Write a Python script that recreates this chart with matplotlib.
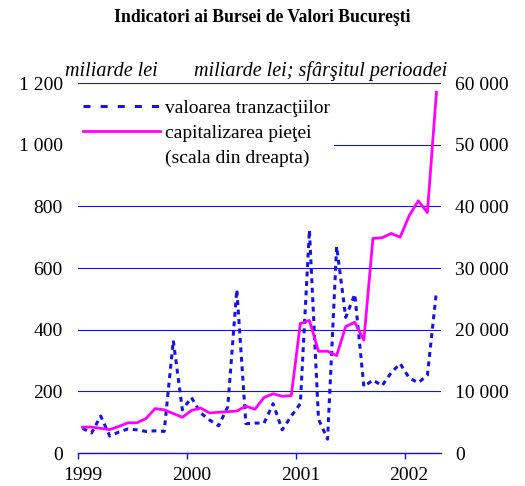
import matplotlib.pyplot as plt
from matplotlib.lines import Line2D
import numpy as np

# date lunare: ianuarie 1999 - aprilie 2002
ani = ['1999', '2000', '2001', '2002']
valoare_tranzactii = [80, 65, 120, 55, 68, 78, 75, 70, 72, 70, 365, 140,
                      180, 130, 107, 88, 150, 530, 95, 97, 97, 160, 75, 120,
                      160, 723, 110, 45, 670, 440, 515, 215, 237, 218, 260, 290,
                      243, 228, 252, 525]
capitalizare = [4200, 4200, 4000, 3800, 4300, 4900, 4900, 5600, 7200, 7000, 6400, 5800,
                6900, 7300, 6500, 6600, 6700, 6800, 7600, 7100, 9000, 9600, 9200, 9300,
                21000, 21500, 16500, 16500, 15800, 20500, 21200, 18300, 34800, 34900, 35600, 35000,
                38500, 40900, 39000, 58500]
ticks_stanga = [0, 200, 400, 600, 800, 1000, 1200]
etichete_stanga = ['0', '200', '400', '600', '800', '1 000', '1 200']
ticks_dreapta = [0, 10000, 20000, 30000, 40000, 50000, 60000]
etichete_dreapta = ['0', '10 000', '20 000', '30 000', '40 000', '50 000', '60 000']

BLUE = '#1414e6'
MAGENTA = '#ff00ff'


def main():
    make_plot()


def make_plot():
    plt.rcParams['font.family'] = ['Liberation Serif', 'DejaVu Serif']
    fig = plt.figure(figsize=(5.25, 4.86), dpi=100)
    ax = fig.add_axes([78 / 525, 1 - 453 / 486, 363 / 525, 370 / 486])
    ax2 = ax.twinx()

    x = np.arange(len(valoare_tranzactii))

    ax.plot(x, valoare_tranzactii, color=BLUE, lw=2.2, dashes=(1.6, 1.5),
            dash_capstyle='butt', zorder=3)
    ax2.plot(x, capitalizare, color=MAGENTA, lw=2.0, zorder=3)

    ax.set_xlim(-0.5, len(x) - 0.5)
    ax.set_ylim(0, 1200)
    ax2.set_ylim(0, 60000)

    ax.set_yticks(ticks_stanga)
    ax.set_yticklabels(etichete_stanga)
    ax2.set_yticks(ticks_dreapta)
    ax2.set_yticklabels(etichete_dreapta)

    # tick marks between years, labels slightly shifted
    year_starts = [-0.5 + 12 * i for i in range(len(ani))]
    ax.set_xticks(year_starts)
    ax.set_xticklabels([''] * len(ani))
    ax.set_xticks([p + 0.5 for p in year_starts], minor=True)
    ax.set_xticklabels(ani, minor=True)
    ax.tick_params(axis='x', which='major', direction='out', length=4.5,
                   width=1.0, color=BLUE)
    ax.tick_params(axis='x', which='minor', length=0, pad=10, labelsize=14)

    ax.tick_params(axis='y', length=0, pad=11, labelsize=14)
    ax2.tick_params(axis='y', length=0, pad=10, labelsize=14)

    for s in ['left', 'right', 'top']:
        ax.spines[s].set_visible(False)
    for s in ['left', 'right', 'top', 'bottom']:
        ax2.spines[s].set_visible(False)
    ax.spines['bottom'].set_color(BLUE)
    ax.spines['bottom'].set_linewidth(1.0)

    ax.yaxis.grid(True, color=BLUE, lw=0.8)
    ax.set_axisbelow(True)

    handles = [
        Line2D([], [], color=BLUE, lw=2.2, dashes=(2.3, 3.3), dash_capstyle='butt'),
        Line2D([], [], color=MAGENTA, lw=2.0),
        Line2D([], [], color='none'),
    ]
    labels = ['valoarea tranzacţiilor', 'capitalizarea pieţei', '(scala din dreapta)']
    leg = ax2.legend(handles, labels, loc='upper left', bbox_to_anchor=(0, 0.97),
                     borderaxespad=0, borderpad=0.25, handlelength=3.95,
                     handletextpad=0.25, labelspacing=0.4, fontsize=14,
                     frameon=True, fancybox=False, framealpha=1)
    leg.get_frame().set_edgecolor('none')
    leg.get_frame().set_facecolor('white')

    fig.text(0.5, 1 - 18 / 486, 'Indicatori ai Bursei de Valori Bucureşti',
             ha='center', va='center', fontsize=12.7, fontweight='bold')
    fig.text(65 / 525, 1 - 76 / 486, 'miliarde lei', ha='left', va='baseline',
             fontsize=14.5, style='italic')
    fig.text(447 / 525, 1 - 76 / 486, 'miliarde lei; sfârşitul perioadei',
             ha='right', va='baseline', fontsize=14.5, style='italic')

    plt.savefig('out.png', dpi=100)
    plt.close()


if __name__ == "__main__":
    main()
